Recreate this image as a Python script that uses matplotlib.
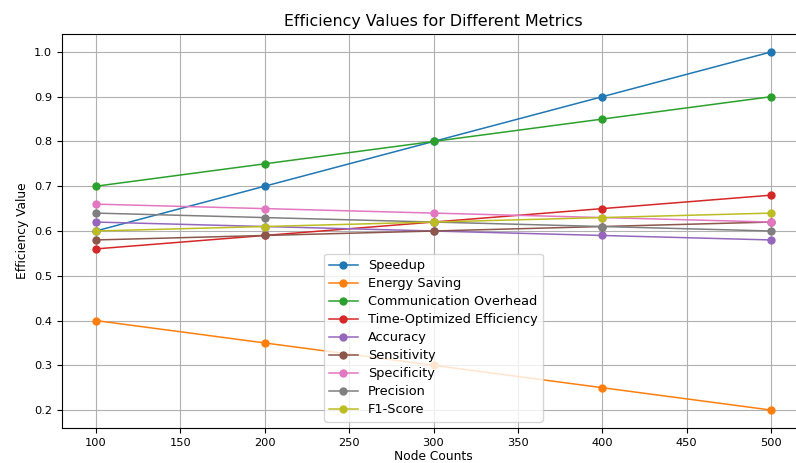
import matplotlib
matplotlib.use("Agg")
import matplotlib.pyplot as plt

node_counts = [100, 200, 300, 400, 500]
speedup = [0.60, 0.70, 0.80, 0.90, 1.00]
energy_saving = [0.40, 0.35, 0.30, 0.25, 0.20]
communication_overhead = [0.70, 0.75, 0.80, 0.85, 0.90]
time_optimized = [0.56, 0.59, 0.62, 0.65, 0.68]
accuracy = [0.62, 0.61, 0.60, 0.59, 0.58]
sensitivity = [0.58, 0.59, 0.60, 0.61, 0.62]
specificity = [0.66, 0.65, 0.64, 0.63, 0.62]
precision = [0.64, 0.63, 0.62, 0.61, 0.60]
f1_score = [0.60, 0.61, 0.62, 0.63, 0.64]

series = [
    ("Speedup", speedup),
    ("Energy Saving", energy_saving),
    ("Communication Overhead", communication_overhead),
    ("Time-Optimized Efficiency", time_optimized),
    ("Accuracy", accuracy),
    ("Sensitivity", sensitivity),
    ("Specificity", specificity),
    ("Precision", precision),
    ("F1-Score", f1_score),
]

fig = plt.figure(figsize=(7.96, 4.63), dpi=100)
ax = fig.add_axes([62/796, 1 - 428/463, (805 - 62)/796, (428 - 34)/463])
for name, vals in series:
    ax.plot(node_counts, vals, marker="o", markersize=5, linewidth=1.1, label=name)

ax.set_title("Efficiency Values for Different Metrics", fontsize=11.4)
ax.set_xlabel("Node Counts", fontsize=8.8, labelpad=2)
ax.set_ylabel("Efficiency Value", fontsize=8.8)
ax.tick_params(labelsize=8.2)
ax.grid(True)
ax.legend(loc="lower center", fontsize=9.3, handlelength=2.2, labelspacing=0.39)
fig.savefig("out.png", dpi=100)
